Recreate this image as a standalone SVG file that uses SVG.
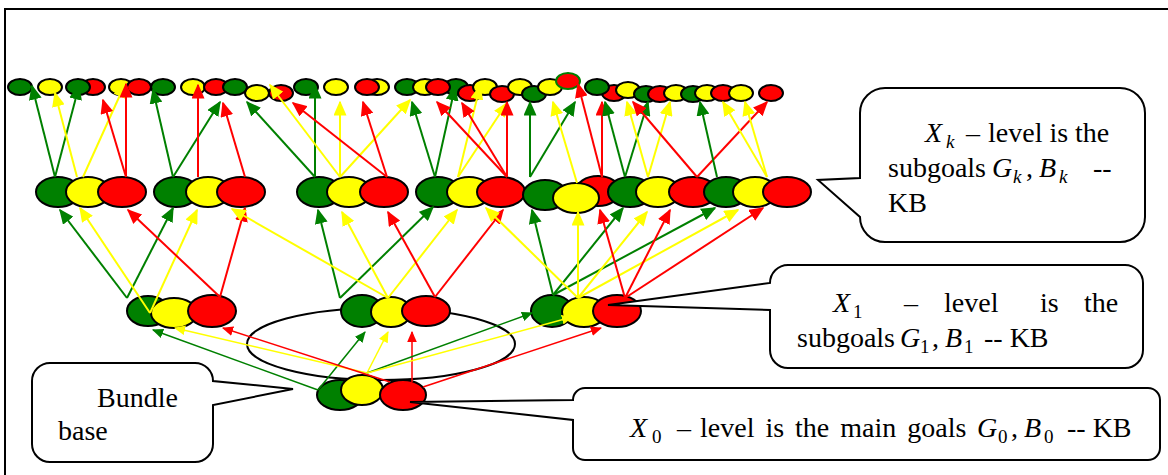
<svg xmlns="http://www.w3.org/2000/svg" width="1168" height="475" viewBox="0 0 1168 475">
<style>
.g{fill:#008000}.y{fill:#ffff00}.r{fill:#ff0000}
ellipse{stroke:#000;stroke-width:2}
.rg{stroke:#008000}
#connectors line{fill:none}
.cg{stroke:#008000;marker-end:url(#ag)}
.cy{stroke:#ffff00;marker-end:url(#ay)}
.cr{stroke:#ff0000;marker-end:url(#ar)}
.w2{stroke-width:2}.w15{stroke-width:1.5}
.callout{fill:#fff;stroke:#000;stroke-width:2}
text{font-family:"Liberation Serif","Times New Roman",serif;font-size:28px;fill:#000}
.i{font-style:italic}
.s{font-size:19px}
</style>
<defs>
<marker id="ag" viewBox="0 0 10 10" refX="9" refY="5" markerWidth="7.5" markerHeight="6.5" preserveAspectRatio="none" orient="auto"><path d="M0,0L10,5L0,10z" fill="#008000"/></marker>
<marker id="ay" viewBox="0 0 10 10" refX="9" refY="5" markerWidth="7.5" markerHeight="6.5" preserveAspectRatio="none" orient="auto"><path d="M0,0L10,5L0,10z" fill="#ffff00"/></marker>
<marker id="ar" viewBox="0 0 10 10" refX="9" refY="5" markerWidth="7.5" markerHeight="6.5" preserveAspectRatio="none" orient="auto"><path d="M0,0L10,5L0,10z" fill="#ff0000"/></marker>
</defs>
<rect width="1168" height="475" fill="#fff"/>
<path d="M5,475V9H1168" fill="none" stroke="#000" stroke-width="2"/>

<g id="bundle-ellipse"><ellipse cx="381" cy="344" rx="134" ry="36" fill="none" stroke-width="2.5"/></g>

<!-- top row -->
<g id="top-1"><ellipse class="g" cx="20" cy="87" rx="12" ry="8"/></g>
<g id="top-2"><ellipse class="y" cx="50" cy="87" rx="12" ry="8"/></g>
<g id="top-4"><ellipse class="r" cx="93" cy="87" rx="12" ry="8"/></g>
<g id="top-3"><ellipse class="g" cx="78" cy="87" rx="12" ry="8"/></g>
<g id="top-5"><ellipse class="y" cx="121" cy="87" rx="12" ry="8"/></g>
<g id="top-6"><ellipse class="r" cx="139" cy="87" rx="12" ry="8"/></g>
<g id="top-7"><ellipse class="g" cx="163" cy="87" rx="12" ry="8"/></g>
<g id="top-8"><ellipse class="y" cx="193" cy="87" rx="12" ry="8"/></g>
<g id="top-9"><ellipse class="r" cx="216" cy="87" rx="12" ry="8"/></g>
<g id="top-10"><ellipse class="g" cx="235" cy="87" rx="12" ry="8"/></g>
<g id="top-11"><ellipse class="y" cx="257" cy="93" rx="12" ry="8"/></g>
<g id="top-12"><ellipse class="r" cx="281" cy="93" rx="12" ry="8"/></g>
<g id="top-13"><ellipse class="g" cx="306" cy="87" rx="12" ry="8"/></g>
<g id="top-14"><ellipse class="y" cx="336" cy="87" rx="12" ry="8"/></g>
<g id="top-15"><ellipse class="y" cx="377" cy="87" rx="12" ry="8"/></g>
<g id="top-16"><ellipse class="r" cx="367" cy="87" rx="12" ry="8"/></g>
<g id="top-17"><ellipse class="g" cx="407" cy="87" rx="12" ry="8"/></g>
<g id="top-18"><ellipse class="y" cx="425" cy="87" rx="12" ry="8"/></g>
<g id="top-20"><ellipse class="g" cx="456" cy="87" rx="12" ry="8"/></g>
<g id="top-19"><ellipse class="r" cx="438" cy="87" rx="12" ry="8"/></g>
<g id="top-21"><ellipse class="r" cx="470" cy="93" rx="12" ry="8"/></g>
<g id="top-22"><ellipse class="y" cx="485" cy="87" rx="12" ry="8"/></g>
<g id="top-23"><ellipse class="r" cx="502" cy="94" rx="12" ry="8"/></g>
<g id="top-24"><ellipse class="y" cx="520" cy="87" rx="12" ry="8"/></g>
<g id="top-25"><ellipse class="g" cx="534" cy="94" rx="12" ry="8"/></g>
<g id="top-26"><ellipse class="y" cx="550" cy="87" rx="12" ry="8"/></g>
<g id="top-27"><ellipse class="r rg" cx="568" cy="81" rx="12" ry="8"/></g>
<g id="top-29"><ellipse class="r" cx="614" cy="93" rx="12" ry="8"/></g>
<g id="top-28"><ellipse class="g" cx="597" cy="87" rx="12" ry="8"/></g>
<g id="top-30"><ellipse class="y" cx="628" cy="90" rx="12" ry="8"/></g>
<g id="top-31"><ellipse class="g" cx="646" cy="94" rx="12" ry="8"/></g>
<g id="top-32"><ellipse class="r" cx="660" cy="94" rx="12" ry="8"/></g>
<g id="top-33"><ellipse class="y" cx="676" cy="93" rx="12" ry="8"/></g>
<g id="top-34"><ellipse class="g" cx="693" cy="94" rx="12" ry="8"/></g>
<g id="top-35"><ellipse class="y" cx="707" cy="93" rx="12" ry="8"/></g>
<g id="top-36"><ellipse class="r" cx="723" cy="93" rx="12" ry="8"/></g>
<g id="top-37"><ellipse class="y" cx="741" cy="93" rx="12" ry="8"/></g>
<g id="top-38"><ellipse class="r" cx="771" cy="93" rx="12" ry="8"/></g>

<!-- level k -->
<g id="k1-g"><ellipse class="g" cx="58" cy="192" rx="22" ry="15"/></g>
<g id="k1-y"><ellipse class="y" cx="88" cy="192" rx="22" ry="15"/></g>
<g id="k1-r"><ellipse class="r" cx="122" cy="192" rx="24" ry="15"/></g>
<g id="k2-g"><ellipse class="g" cx="176" cy="192" rx="22" ry="15"/></g>
<g id="k2-y"><ellipse class="y" cx="208" cy="192" rx="22" ry="15"/></g>
<g id="k2-r"><ellipse class="r" cx="241" cy="192" rx="24" ry="15"/></g>
<g id="k3-g"><ellipse class="g" cx="319" cy="192" rx="22" ry="15"/></g>
<g id="k3-y"><ellipse class="y" cx="349" cy="192" rx="22" ry="15"/></g>
<g id="k3-r"><ellipse class="r" cx="384" cy="192" rx="24" ry="15"/></g>
<g id="k4-g"><ellipse class="g" cx="438" cy="192" rx="22" ry="15"/></g>
<g id="k4-y"><ellipse class="y" cx="469" cy="192" rx="22" ry="15"/></g>
<g id="k4-r"><ellipse class="r" cx="501" cy="192" rx="24" ry="15"/></g>
<g id="k5-r"><ellipse class="r" cx="598" cy="191" rx="22" ry="15"/></g>
<g id="k5-g"><ellipse class="g" cx="545" cy="195" rx="22" ry="15"/></g>
<g id="k5-y"><ellipse class="y" cx="576" cy="198" rx="23" ry="15"/></g>
<g id="k6-g"><ellipse class="g" cx="630" cy="192" rx="22" ry="15"/></g>
<g id="k6-y"><ellipse class="y" cx="658" cy="192" rx="22" ry="15"/></g>
<g id="k6-r"><ellipse class="r" cx="693" cy="192" rx="24" ry="15"/></g>
<g id="k7-g"><ellipse class="g" cx="726" cy="192" rx="22" ry="15"/></g>
<g id="k7-y"><ellipse class="y" cx="755" cy="192" rx="22" ry="15"/></g>
<g id="k7-r"><ellipse class="r" cx="787" cy="192" rx="24" ry="15"/></g>

<!-- level 1 -->
<g id="l1a-g"><ellipse class="g" cx="148" cy="311" rx="21" ry="15"/></g>
<g id="l1a-y"><ellipse class="y" cx="174" cy="313" rx="23" ry="15"/></g>
<g id="l1a-r"><ellipse class="r" cx="212" cy="311" rx="24" ry="16"/></g>
<g id="l1b-g"><ellipse class="g" cx="362" cy="311" rx="21" ry="16"/></g>
<g id="l1b-y"><ellipse class="y" cx="391" cy="312" rx="20" ry="15"/></g>
<g id="l1b-r"><ellipse class="r" cx="426" cy="311" rx="24" ry="15"/></g>
<g id="l1c-g"><ellipse class="g" cx="552" cy="311" rx="21" ry="16"/></g>
<g id="l1c-y"><ellipse class="y" cx="584" cy="312" rx="22" ry="15"/></g>
<g id="l1c-r"><ellipse class="r" cx="617" cy="311" rx="24" ry="16"/></g>

<!-- level 0 -->
<g id="l0-g"><ellipse class="g" cx="340" cy="395" rx="23" ry="15"/></g>
<g id="l0-y"><ellipse class="y" cx="362" cy="390" rx="21" ry="15"/></g>
<g id="l0-r"><ellipse class="r" cx="403" cy="395" rx="23" ry="15"/></g>

<g id="connectors">
<!-- level k to top -->
<line class="cg w2" x1="55" y1="177" x2="32" y2="86"/>
<line class="cg w2" x1="55" y1="177" x2="79" y2="86"/>
<line class="cy w2" x1="77" y1="177" x2="55" y2="93"/>
<line class="cy w2" x1="83" y1="177" x2="125" y2="84"/>
<line class="cr w2" x1="126" y1="177" x2="103" y2="100"/>
<line class="cr w2" x1="126" y1="177" x2="126" y2="84"/>
<line class="cg w2" x1="173" y1="177" x2="153" y2="90"/>
<line class="cg w2" x1="173" y1="177" x2="220" y2="102"/>
<line class="cr w2" x1="198" y1="177" x2="198" y2="85"/>
<line class="cr w2" x1="245" y1="177" x2="223" y2="103"/>
<line class="cg w2" x1="315" y1="177" x2="247" y2="102"/>
<line class="cg w2" x1="315" y1="177" x2="315" y2="85"/>
<line class="cy w2" x1="340" y1="177" x2="270" y2="85"/>
<line class="cy w2" x1="340" y1="177" x2="340" y2="102"/>
<line class="cy w2" x1="340" y1="177" x2="410" y2="100"/>
<line class="cr w2" x1="387" y1="177" x2="293" y2="103"/>
<line class="cr w2" x1="387" y1="177" x2="363" y2="102"/>
<line class="cg w2" x1="435" y1="177" x2="412" y2="102"/>
<line class="cg w2" x1="435" y1="177" x2="455" y2="87"/>
<line class="cy w2" x1="458" y1="177" x2="480" y2="86"/>
<line class="cy w2" x1="458" y1="177" x2="507" y2="103"/>
<line class="cr w2" x1="507" y1="177" x2="437" y2="102"/>
<line class="cr w2" x1="507" y1="177" x2="462" y2="103"/>
<line class="cr w2" x1="507" y1="177" x2="507" y2="102"/>
<line class="cg w2" x1="530" y1="177" x2="530" y2="102"/>
<line class="cg w2" x1="530" y1="177" x2="575" y2="102"/>
<line class="cy w2" x1="577" y1="183" x2="553" y2="102"/>
<line class="cr w2" x1="602" y1="177" x2="578" y2="84"/>
<line class="cr w2" x1="602" y1="177" x2="602" y2="102"/>
<line class="cg w2" x1="625" y1="177" x2="605" y2="102"/>
<line class="cg w2" x1="625" y1="177" x2="648" y2="102"/>
<line class="cy w2" x1="648" y1="177" x2="627" y2="102"/>
<line class="cy w2" x1="648" y1="177" x2="670" y2="102"/>
<line class="cr w2" x1="697" y1="177" x2="633" y2="102"/>
<line class="cr w2" x1="697" y1="177" x2="767" y2="102"/>
<line class="cg w2" x1="717" y1="177" x2="700" y2="102"/>
<line class="cy w2" x1="767" y1="177" x2="723" y2="102"/>
<line class="cy w2" x1="767" y1="177" x2="745" y2="102"/>
<!-- level 1 to level k -->
<line class="cg w2" x1="127" y1="298" x2="60" y2="210"/>
<line class="cg w2" x1="127" y1="298" x2="173" y2="208"/>
<line class="cy w2" x1="150" y1="313" x2="80" y2="208"/>
<line class="cy w2" x1="150" y1="313" x2="197" y2="210"/>
<line class="cr w2" x1="220" y1="297" x2="128" y2="210"/>
<line class="cr w2" x1="220" y1="297" x2="245" y2="208"/>
<line class="cg w2" x1="340" y1="298" x2="318" y2="210"/>
<line class="cg w2" x1="340" y1="298" x2="433" y2="207"/>
<line class="cy w2" x1="388" y1="298" x2="342" y2="212"/>
<line class="cy w2" x1="388" y1="298" x2="457" y2="210"/>
<line class="cy w2" x1="388" y1="298" x2="232" y2="209"/>
<line class="cr w2" x1="435" y1="297" x2="388" y2="212"/>
<line class="cr w2" x1="435" y1="297" x2="503" y2="210"/>
<line class="cg w2" x1="553" y1="295" x2="532" y2="210"/>
<line class="cg w2" x1="553" y1="295" x2="623" y2="208"/>
<line class="cg w2" x1="553" y1="295" x2="715" y2="208"/>
<line class="cy w2" x1="578" y1="298" x2="578" y2="212"/>
<line class="cy w2" x1="578" y1="298" x2="647" y2="212"/>
<line class="cy w2" x1="578" y1="298" x2="738" y2="210"/>
<line class="cy w2" x1="578" y1="298" x2="486" y2="208"/>
<line class="cr w2" x1="625" y1="298" x2="600" y2="210"/>
<line class="cr w2" x1="625" y1="298" x2="670" y2="210"/>
<line class="cr w2" x1="625" y1="298" x2="763" y2="208"/>
<!-- level 0 to level 1 -->
<line class="cg w15" x1="318" y1="390" x2="153" y2="330"/>
<line class="cg w15" x1="318" y1="390" x2="365" y2="332"/>
<line class="cy w15" x1="367" y1="373" x2="175" y2="328"/>
<line class="cy w15" x1="367" y1="373" x2="388" y2="332"/>
<line class="cr w15" x1="390" y1="382" x2="223" y2="328"/>
<line class="cr w15" x1="412" y1="382" x2="412" y2="332"/>
<line class="cg w15" x1="367" y1="373" x2="532" y2="313"/>
<line class="cy w15" x1="367" y1="373" x2="572" y2="317"/>
<line class="cr w15" x1="423" y1="387" x2="601" y2="328"/>
</g>

<g id="callout-k">
<path class="callout" d="M885,88H1120A25,25 0 0 1 1145,113V217A25,25 0 0 1 1120,242H885A25,25 0 0 1 860,217L818,180L860,178V113A25,25 0 0 1 885,88Z"/>
<text x="925" y="142"><tspan class="i">X</tspan><tspan class="i s" x="946" y="148">k</tspan><tspan x="966" y="142">–</tspan><tspan x="988">level is the</tspan></text>
<text x="888" y="177">subgoals</text>
<text x="992" y="177"><tspan class="i">G</tspan><tspan class="i s" x="1013" y="183">k</tspan><tspan x="1026" y="177">,</tspan><tspan class="i" x="1039">B</tspan><tspan class="i s" x="1059" y="183">k</tspan><tspan x="1093" y="177">--</tspan></text>
<text x="888" y="212">KB</text>
</g>

<g id="callout-1">
<path class="callout" d="M788,265H1125A18,18 0 0 1 1143,283V350A18,18 0 0 1 1125,368H788A18,18 0 0 1 770,350V310L608,305L770,283A18,18 0 0 1 788,265Z"/>
<text x="833" y="312"><tspan class="i">X</tspan><tspan class="s" x="853" y="318">1</tspan><tspan x="904" y="312">–</tspan><tspan x="944">level</tspan><tspan x="1040">is</tspan><tspan x="1084">the</tspan></text>
<text x="797" y="347">subgoals</text>
<text x="900" y="347"><tspan class="i">G</tspan><tspan class="s" x="920" y="353">1</tspan><tspan x="932" y="347">,</tspan><tspan class="i" x="945">B</tspan><tspan class="s" x="964" y="353">1</tspan><tspan x="984" y="347">-- KB</tspan></text>
</g>

<g id="callout-0">
<path class="callout" d="M585,388H1148A12,12 0 0 1 1160,400V448A12,12 0 0 1 1148,460H585A12,12 0 0 1 573,448V420L410,402L573,400A12,12 0 0 1 585,388Z"/>
<text x="630" y="437"><tspan class="i">X</tspan><tspan class="s" x="652" y="443">0</tspan><tspan x="677" y="437">–</tspan><tspan x="700" word-spacing="4">level is the main goals</tspan><tspan class="i" x="977">G</tspan><tspan class="s" x="998" y="443">0</tspan><tspan x="1011" y="437">,</tspan><tspan class="i" x="1024">B</tspan><tspan class="s" x="1044" y="443">0</tspan><tspan x="1067" y="437">-- KB</tspan></text>
</g>

<g id="callout-base">
<path class="callout" d="M50,363H195A18,18 0 0 1 213,381L293,389L213,405V444A18,18 0 0 1 195,462H50A18,18 0 0 1 32,444V381A18,18 0 0 1 50,363Z"/>
<text x="97" y="407">Bundle</text>
<text x="58" y="440">base</text>
</g>
</svg>
